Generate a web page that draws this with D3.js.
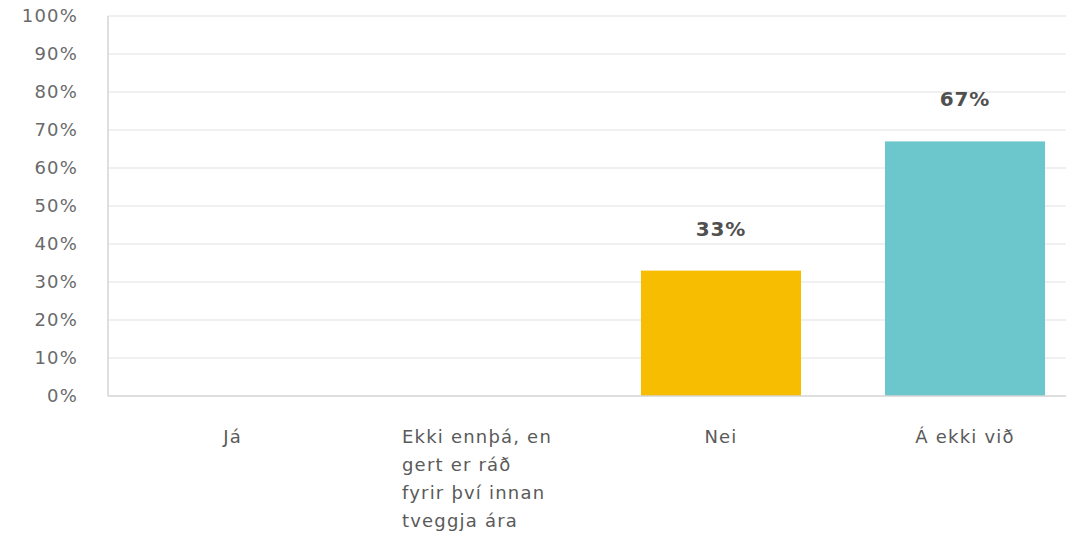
<html lang="en">
  <head>
    <meta charset="utf-8">
    <script src="https://d3js.org/d3.v7.js"></script>
    <style>
      body { margin: 0; background: #fff; }
      text { font-family: "DejaVu Sans", sans-serif; }
    </style>
  </head>
  <body>
    <svg id="chart" width="1068" height="534"></svg>
    <script>
      var categories = ["Já", "Ekki ennþá, en gert er ráð fyrir því innan tveggja ára", "Nei", "Á ekki við"];
      var labelLines = [["Já"], ["Ekki ennþá, en", "gert er ráð", "fyrir því innan", "tveggja ára"], ["Nei"], ["Á ekki við"]];
      var values = [0, 0, 0.33, 0.67];
      var valueLabels = ["", "", "33%", "67%"];
      var colors = ["#6cc7cc", "#6cc7cc", "#f7bd00", "#6cc7cc"];
      var yTicks = [0, 0.1, 0.2, 0.3, 0.4, 0.5, 0.6, 0.7, 0.8, 0.9, 1];

      var svg = d3.select("svg#chart");

      var plotLeft = 108, plotRight = 1066, plotTop = 16, plotBottom = 396;

      var x = d3.scaleBand()
        .domain(categories)
        .range([111, 1087])
        .paddingInner(0.344)
        .paddingOuter(0.172);

      var y = d3.scaleLinear()
        .domain([0, 1])
        .range([plotBottom, plotTop]);

      // gridlines
      svg.append("g")
        .selectAll("line")
        .data(yTicks.slice(1))
        .enter()
        .append("line")
        .attr("x1", plotLeft)
        .attr("x2", plotRight)
        .attr("y1", d => y(d))
        .attr("y2", d => y(d))
        .attr("stroke", "#ebebeb")
        .attr("stroke-width", 1.5);

      // y axis labels
      svg.append("g")
        .selectAll("text")
        .data(yTicks)
        .enter()
        .append("text")
        .attr("x", 78)
        .attr("y", d => y(d))
        .attr("dy", "0.35em")
        .attr("text-anchor", "end")
        .attr("font-size", 18)
        .attr("letter-spacing", 1.2)
        .attr("fill", "#6a6a6a")
        .text(d3.format(".0%"));

      // bars
      svg.append("g")
        .selectAll("rect")
        .data(categories)
        .enter()
        .append("rect")
        .attr("x", d => x(d))
        .attr("width", x.bandwidth())
        .attr("y", (d, i) => y(values[i]))
        .attr("height", (d, i) => y(0) - y(values[i]))
        .attr("fill", (d, i) => colors[i]);

      // axis lines
      svg.append("line")
        .attr("x1", plotLeft).attr("x2", plotLeft)
        .attr("y1", plotTop).attr("y2", plotBottom)
        .attr("stroke", "#d4d4d4").attr("stroke-width", 1.5);
      svg.append("line")
        .attr("x1", plotLeft).attr("x2", plotRight)
        .attr("y1", plotBottom).attr("y2", plotBottom)
        .attr("stroke", "#d4d4d4").attr("stroke-width", 1.5);

      // value labels
      svg.append("g")
        .selectAll("text")
        .data(categories)
        .enter()
        .append("text")
        .attr("x", d => x(d) + x.bandwidth() / 2)
        .attr("y", (d, i) => y(values[i]) - 35)
        .attr("text-anchor", "middle")
        .attr("font-size", 20)
        .attr("letter-spacing", 0.8)
        .attr("font-weight", 600)
        .attr("fill", "#505050")
        .text((d, i) => valueLabels[i]);

      // category labels (wrapped, left aligned block centred on band)
      categories.forEach(function(c, i) {
        var t = svg.append("text")
          .attr("font-size", 18)
          .attr("letter-spacing", 1.2)
          .attr("fill", "#5a5a5a");
        labelLines[i].forEach(function(l, j) {
          t.append("tspan")
            .attr("x", 0)
            .attr("y", 443 + j * 28)
            .text(l);
        });
        var w = t.node().getBBox().width;
        t.selectAll("tspan").attr("x", x(c) + x.bandwidth() / 2 - w / 2);
      });
    </script>
  </body>
</html>
